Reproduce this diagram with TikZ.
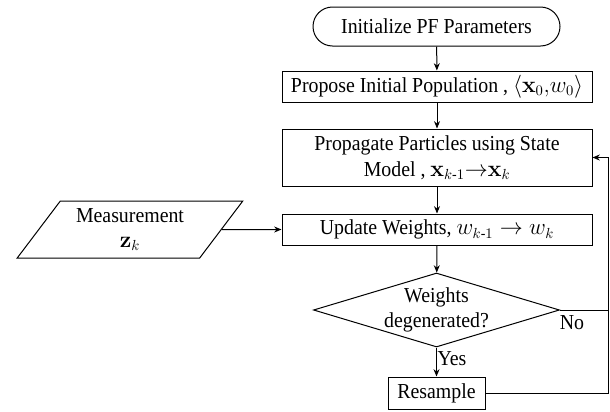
\documentclass[tikz,border=0pt]{standalone}
\usepackage{amsmath}
\usepackage[no-math]{fontspec}
\setmainfont{Liberation Serif}[FakeStretch=0.93]
\usepackage{tikz}
\usetikzlibrary{shapes.geometric,shapes.misc,arrows.meta}

\begin{document}
\begin{tikzpicture}[x=0.75pt,y=0.75pt,yscale=-1,xscale=1,
  font=\fontsize{16}{18}\selectfont,
  every node/.style={line width=0.75pt},
  stepbox/.style={draw, minimum width=232.5pt, inner sep=0pt, align=center},
  arr/.style={-{Stealth[length=5.5pt,width=4.5pt]}, line width=0.75pt}]
\useasboundingbox (0,0) rectangle (610,411);

%Shape: Terminator [init]
\node[draw, rounded rectangle, minimum width=185.25pt, minimum height=29.25pt, inner sep=0pt] (init) at (436.5,26.5) {Initialize PF Parameters};
%Shape: Rectangle [propose]
\node[stepbox, minimum height=23.25pt] (propose) at (437,86.5) {Propose Initial Population , $\langle\mathbf{x}_0{,}w_0\rangle$};
%Shape: Rectangle [propagate]
\node[stepbox, minimum height=42.75pt] (propagate) at (437,157.5) {Propagate Particles using State\\[1.5pt]Model , $\mathbf{x}_{k\text{-}1}{\rightarrow}\mathbf{x}_k$};
%Shape: Rectangle [update]
\node[stepbox, minimum height=23.25pt] (update) at (437,229.5) {Update Weights, $w_{k\text{-}1} \rightarrow w_k$};
%Shape: Parallelogram [measure]
\node[draw, trapezium, trapezium left angle=52, trapezium right angle=128, trapezium stretches=true, minimum width=169.5pt, minimum height=42.75pt, inner sep=0pt, align=center] (measure) at (130,229.5) {Measurement\\[1pt]$\mathbf{z}_k$};
%Shape: Diamond [degen]
\node[draw, diamond, aspect=3.3, minimum width=184.5pt, minimum height=55.5pt, inner sep=-2pt, align=center] (degen) at (436.5,310) {Weights\\[1pt]degenerated?};
%Shape: Rectangle [resample]
\node[draw, minimum width=72.75pt, minimum height=24pt, inner sep=0pt] (resample) at (436.5,393) {Resample};

% Text Node
\node (no) at (572,323) {No};
% Text Node
\node (yes) at (452,359) {Yes};

%Straight Lines
\draw[arr] (init) -- (propose);
\draw[arr] (propose) -- (propagate);
\draw[arr] (propagate) -- (update);
\draw[arr] (update) -- (degen);
\draw[arr] (degen) -- (resample);
\draw[arr] (measure) -- (update);
%Loop back
\coordinate (loop) at (608.5,310);
\draw[arr] (degen.east) -- (loop) |- (propagate.east);
\draw[line width=0.75pt] (resample.east) -| (loop);

\end{tikzpicture}
\end{document}
